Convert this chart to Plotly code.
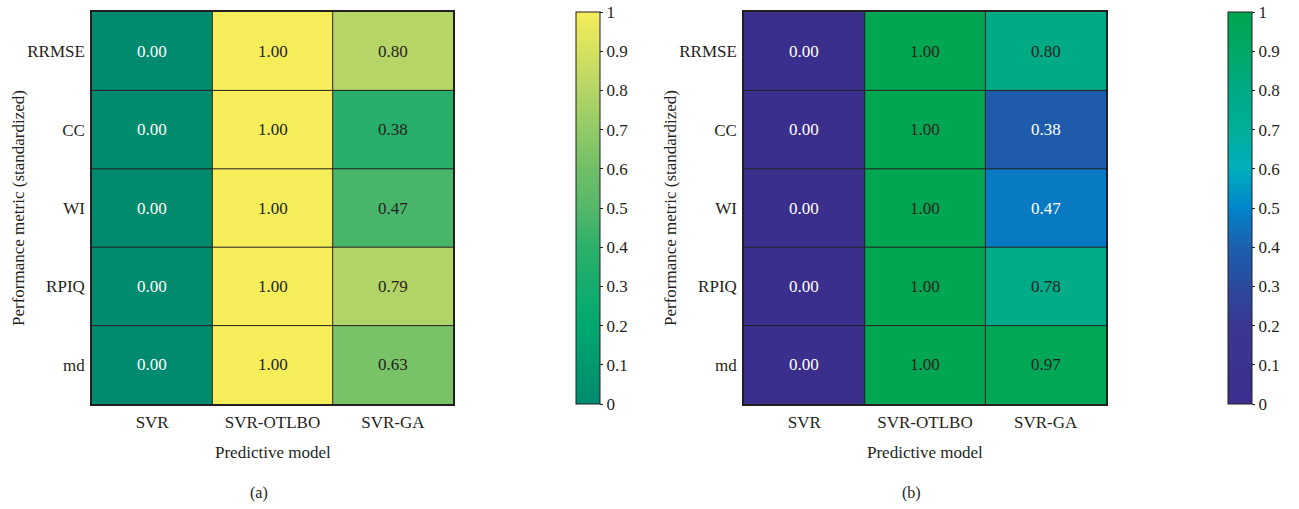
import plotly.graph_objects as go

models = ["SVR", "SVR-OTLBO", "SVR-GA"]
metrics = ["RRMSE", "CC", "WI", "RPIQ", "md"]

# standardized scores, one row per metric, columns follow `models`
scores_a = [
    [0.00, 1.00, 0.80],
    [0.00, 1.00, 0.38],
    [0.00, 1.00, 0.47],
    [0.00, 1.00, 0.79],
    [0.00, 1.00, 0.63],
]
scores_b = [
    [0.00, 1.00, 0.80],
    [0.00, 1.00, 0.38],
    [0.00, 1.00, 0.47],
    [0.00, 1.00, 0.78],
    [0.00, 1.00, 0.97],
]

scale_a = [
    [0.0, "#008a6e"], [0.2, "#00a970"], [0.4, "#2bb06a"], [0.5, "#55b76a"],
    [0.6, "#70bf68"], [0.8, "#b5d566"], [1.0, "#f5ee5a"],
]
scale_b = [
    [0.0, "#3b2f8e"], [0.2, "#3a3691"], [0.3, "#2a4a9e"], [0.4, "#1c5fae"],
    [0.5, "#0085cc"], [0.6, "#00afbd"], [0.7, "#00ae9a"], [0.8, "#00aa84"],
    [0.9, "#00a865"], [1.0, "#00a651"],
]

FONT = "Liberation Serif"
DARK = "#231f20"
ydom = [1 - 404 / 509, 1 - 12 / 509]
panels = [
    dict(z=scores_a, cs=scale_a, xd=[92 / 1299, 453 / 1299], cbx=576 / 1299,
         label="(a)", white=lambda v: v < 0.2),
    dict(z=scores_b, cs=scale_b, xd=[744 / 1299, 1106 / 1299], cbx=1228 / 1299,
         label="(b)", white=lambda v: v < 0.6),
]

fig = go.Figure()
annotations = []
shapes = []
for i, p in enumerate(panels):
    xa = "x" if i == 0 else "x2"
    ya = "y" if i == 0 else "y2"
    fig.add_trace(go.Heatmap(
        z=p["z"], x=models, y=metrics, xaxis=xa, yaxis=ya,
        colorscale=p["cs"], zmin=0, zmax=1, hoverongaps=False,
        colorbar=dict(
            x=p["cbx"], xanchor="left", xref="paper", xpad=0,
            y=ydom[0], yanchor="bottom", ypad=0,
            len=ydom[1] - ydom[0], lenmode="fraction", thickness=24,
            thicknessmode="pixels", outlinewidth=1, outlinecolor=DARK,
            tickvals=[round(0.1 * k, 1) for k in range(11)],
            ticks="outside", ticklen=3, tickcolor=DARK,
            tickfont=dict(family=FONT, size=17, color=DARK),
        ),
    ))
    for r, m in enumerate(metrics):
        for c, mod in enumerate(models):
            v = p["z"][r][c]
            annotations.append(dict(
                x=mod, y=m, xref=xa, yref=ya, text=f"{v:.2f}", showarrow=False,
                font=dict(family=FONT, size=17,
                          color="white" if p["white"](v) else DARK),
            ))
    # cell borders
    for k in range(1, len(models)):
        shapes.append(dict(type="line", xref=xa, yref=ya + " domain",
                           x0=k - 0.5, x1=k - 0.5, y0=0, y1=1,
                           line=dict(color=DARK, width=1)))
    for k in range(1, len(metrics)):
        shapes.append(dict(type="line", xref=xa + " domain", yref=ya,
                           x0=0, x1=1, y0=k - 0.5, y1=k - 0.5,
                           line=dict(color=DARK, width=1)))
    cx = (p["xd"][0] + p["xd"][1]) / 2
    annotations += [
        dict(x=cx, y=1 - 452 / 509, xref="paper", yref="paper",
             xanchor="center", yanchor="middle",
             text="Predictive model", showarrow=False,
             font=dict(family=FONT, size=17, color=DARK)),
        dict(x=p["xd"][0] - 74 / 1299, y=(ydom[0] + ydom[1]) / 2,
             xref="paper", yref="paper", xanchor="center", yanchor="middle",
             text="Performance metric (standardized)",
             textangle=-90, showarrow=False,
             font=dict(family=FONT, size=17, color=DARK)),
        dict(x=cx - 14 / 1299, y=1 - 493 / 509, xref="paper", yref="paper",
             xanchor="center", yanchor="middle",
             text=p["label"], showarrow=False,
             font=dict(family=FONT, size=16, color=DARK)),
    ]

axis_common = dict(showline=True, linecolor=DARK, linewidth=1.5, mirror=True,
                   ticks="", showgrid=False, zeroline=False,
                   tickfont=dict(family=FONT, size=17, color=DARK))
fig.update_layout(
    width=1299, height=509, margin=dict(l=0, r=0, t=0, b=0),
    paper_bgcolor="white", plot_bgcolor="white",
    annotations=annotations, shapes=shapes,
    xaxis=dict(domain=panels[0]["xd"], anchor="y", ticklabelstandoff=2,
               **axis_common),
    yaxis=dict(domain=ydom, anchor="x", autorange="reversed", ticklabelstandoff=2,
               **axis_common),
    xaxis2=dict(domain=panels[1]["xd"], anchor="y2", ticklabelstandoff=2,
                **axis_common),
    yaxis2=dict(domain=ydom, anchor="x2", autorange="reversed", ticklabelstandoff=2,
                **axis_common),
)

fig.write_html("out.html")
